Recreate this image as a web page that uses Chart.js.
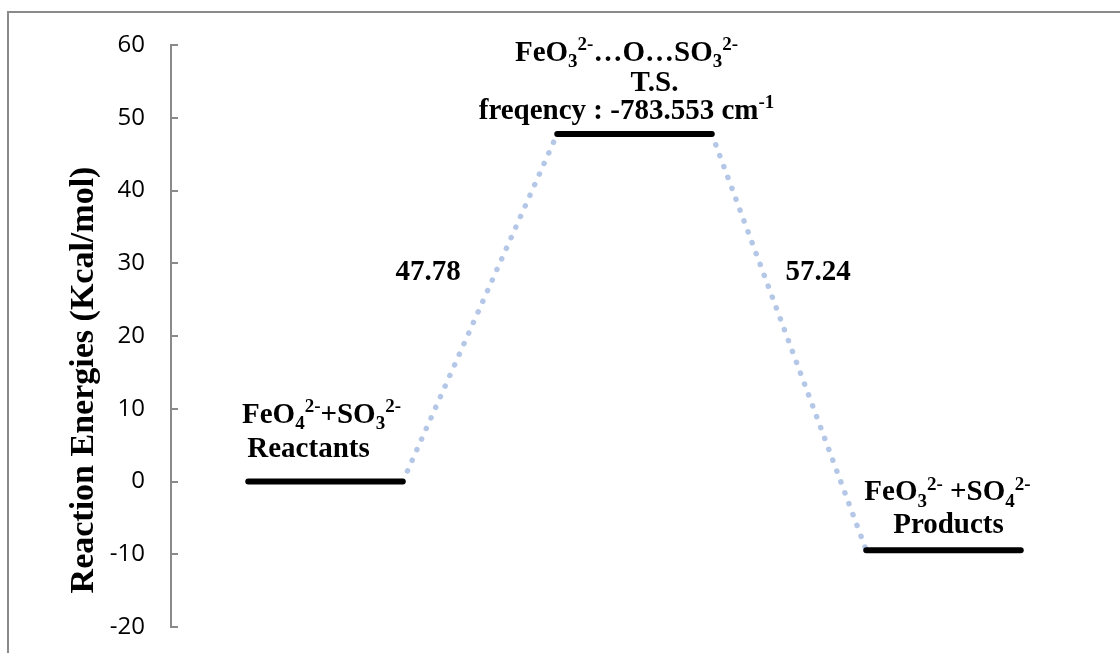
<!DOCTYPE html>
<html>
<head>
<meta charset="utf-8">
<script src="https://cdn.jsdelivr.net/npm/chart.js@4.4.1/dist/chart.umd.min.js"></script>
<style>
html,body{margin:0;padding:0;background:#fff;}
#wrap{width:1120px;height:653px;position:relative;}
</style>
</head>
<body>
<div id="wrap"><canvas id="c" width="1120" height="653"></canvas></div>
<script>
// Reaction energy profile FeO4(2-) + SO3(2-)
const states = ['Reactants', 'T.S.', 'Products'];
const energies = [0, 47.78, -9.46];
const barriers = ['47.78', '57.24'];
const yMin = -20, yMax = 60, yStep = 10;

// formula lines: [text, kind] with kind '' | 'sub' | 'sup'
const formulas = [
  [['FeO',''],['4','sub'],['2-','sup'],['+SO',''],['3','sub'],['2-','sup']],
  [['FeO',''],['3','sub'],['2-','sup'],['\u2026O\u2026SO',''],['3','sub'],['2-','sup']],
  [['FeO',''],['3','sub'],['2-','sup'],[' +SO',''],['4','sub'],['2-','sup']]
];
const tsFreq = [['freqency : -783.553 cm',''],['-1','sup']];

const SERIF = '"Liberation Serif", "Times New Roman", serif';
const FS = 29;

function segFont(k){
  return 'bold ' + (k ? Math.round(FS*0.66) : FS) + 'px ' + SERIF;
}
function drawRich(ctx, segs, cx, base){
  let w = 0;
  segs.forEach(([t,k])=>{ ctx.font = segFont(k); w += ctx.measureText(t).width; });
  let x = cx - w/2;
  ctx.textAlign = 'left';
  ctx.textBaseline = 'alphabetic';
  segs.forEach(([t,k])=>{
    ctx.font = segFont(k);
    const dy = k==='sub' ? FS*0.22 : (k==='sup' ? -FS*0.36 : 0);
    ctx.fillText(t, x, base+dy);
    x += ctx.measureText(t).width;
  });
}

// datasets: one flat level per state, dotted connector between neighbours
const datasets = [];
states.forEach((s,i)=>{
  datasets.push({
    label: s,
    data: [{x:i*2+0.5, y:energies[i]}, {x:i*2+1.5, y:energies[i]}],
    borderColor:'#000', borderWidth:6, borderCapStyle:'round',
    pointRadius:0, showLine:true, order:1
  });
});
for(let i=0;i<states.length-1;i++){
  datasets.push({
    label: 'barrier '+barriers[i],
    data: [{x:i*2+1.5, y:energies[i]}, {x:i*2+2.5, y:energies[i+1]}],
    borderColor:'#b4c7e7', borderWidth:5.5, borderCapStyle:'round',
    borderDash:[0.1, 11.5], pointRadius:0, showLine:true, order:2
  });
}

const decor = {
  id:'decor',
  beforeDraw(chart){
    const ctx = chart.ctx;
    ctx.save();
    ctx.strokeStyle = '#8a8a8a';
    ctx.lineWidth = 2;
    ctx.strokeRect(8, 12, 1300, 800);
    ctx.restore();
  },
  afterDraw(chart){
    const ctx = chart.ctx;
    const xs = chart.scales.x, ys = chart.scales.y;
    ctx.save();
    // inward tick marks
    ctx.strokeStyle = '#8a8a8a';
    ctx.lineWidth = 2;
    for(let v=yMin; v<=yMax; v+=yStep){
      const py = Math.round(ys.getPixelForValue(v));
      ctx.beginPath(); ctx.moveTo(ys.right, py); ctx.lineTo(ys.right+7, py); ctx.stroke();
    }
    ctx.fillStyle = '#000';
    // axis title
    ctx.save();
    ctx.translate(93, (ys.top+ys.bottom)/2 + 44);
    ctx.rotate(-Math.PI/2);
    ctx.font = 'bold 34px ' + SERIF;
    ctx.textAlign = 'center';
    ctx.textBaseline = 'alphabetic';
    ctx.fillText('Reaction Energies (Kcal/mol)', 0, 0);
    ctx.restore();

    const cx = i => xs.getPixelForValue(i*2+1);
    const lv = i => ys.getPixelForValue(energies[i]);
    // reactants
    drawRich(ctx, formulas[0], cx(0)-4, lv(0)-59);
    drawRich(ctx, [['Reactants','']], cx(0)-17, lv(0)-25);
    // transition state
    drawRich(ctx, formulas[1], cx(1)-8, lv(1)-73);
    drawRich(ctx, [['T.S.','']], cx(1)+20, lv(1)-43);
    drawRich(ctx, tsFreq, cx(1)-8, lv(1)-15);
    // products
    drawRich(ctx, formulas[2], cx(2)+4, lv(2)-50);
    drawRich(ctx, [['Products','']], cx(2)+5, lv(2)-17);
    // barrier heights
    ctx.textAlign = 'center';
    ctx.textBaseline = 'middle';
    ctx.font = 'bold ' + FS + 'px ' + SERIF;
    ctx.fillText(barriers[0], xs.getPixelForValue(2)-52, ys.getPixelForValue((energies[0]+energies[1])/2)-35);
    ctx.fillText(barriers[1], xs.getPixelForValue(4)+29, ys.getPixelForValue((energies[1]+energies[2])/2)-70);
    ctx.restore();
  }
};

new Chart(document.getElementById('c'), {
  type:'scatter',
  data:{datasets},
  options:{
    responsive:false,
    animation:false,
    layout:{padding:{left:0, top:45, right:22, bottom:26}},
    plugins:{legend:{display:false}, tooltip:{enabled:false}},
    scales:{
      x:{type:'linear', min:0, max:6, display:false},
      y:{
        min:yMin, max:yMax,
        afterFit(s){ s.width = 171; },
        ticks:{stepSize:yStep, color:'#000', padding:0,
          font:{family:'"Open Sans", sans-serif', size:24}},
        grid:{display:false, drawTicks:true, tickLength:26},
        border:{display:true, color:'#8a8a8a', width:2}
      }
    }
  },
  plugins:[decor]
});
</script>
</body>
</html>
